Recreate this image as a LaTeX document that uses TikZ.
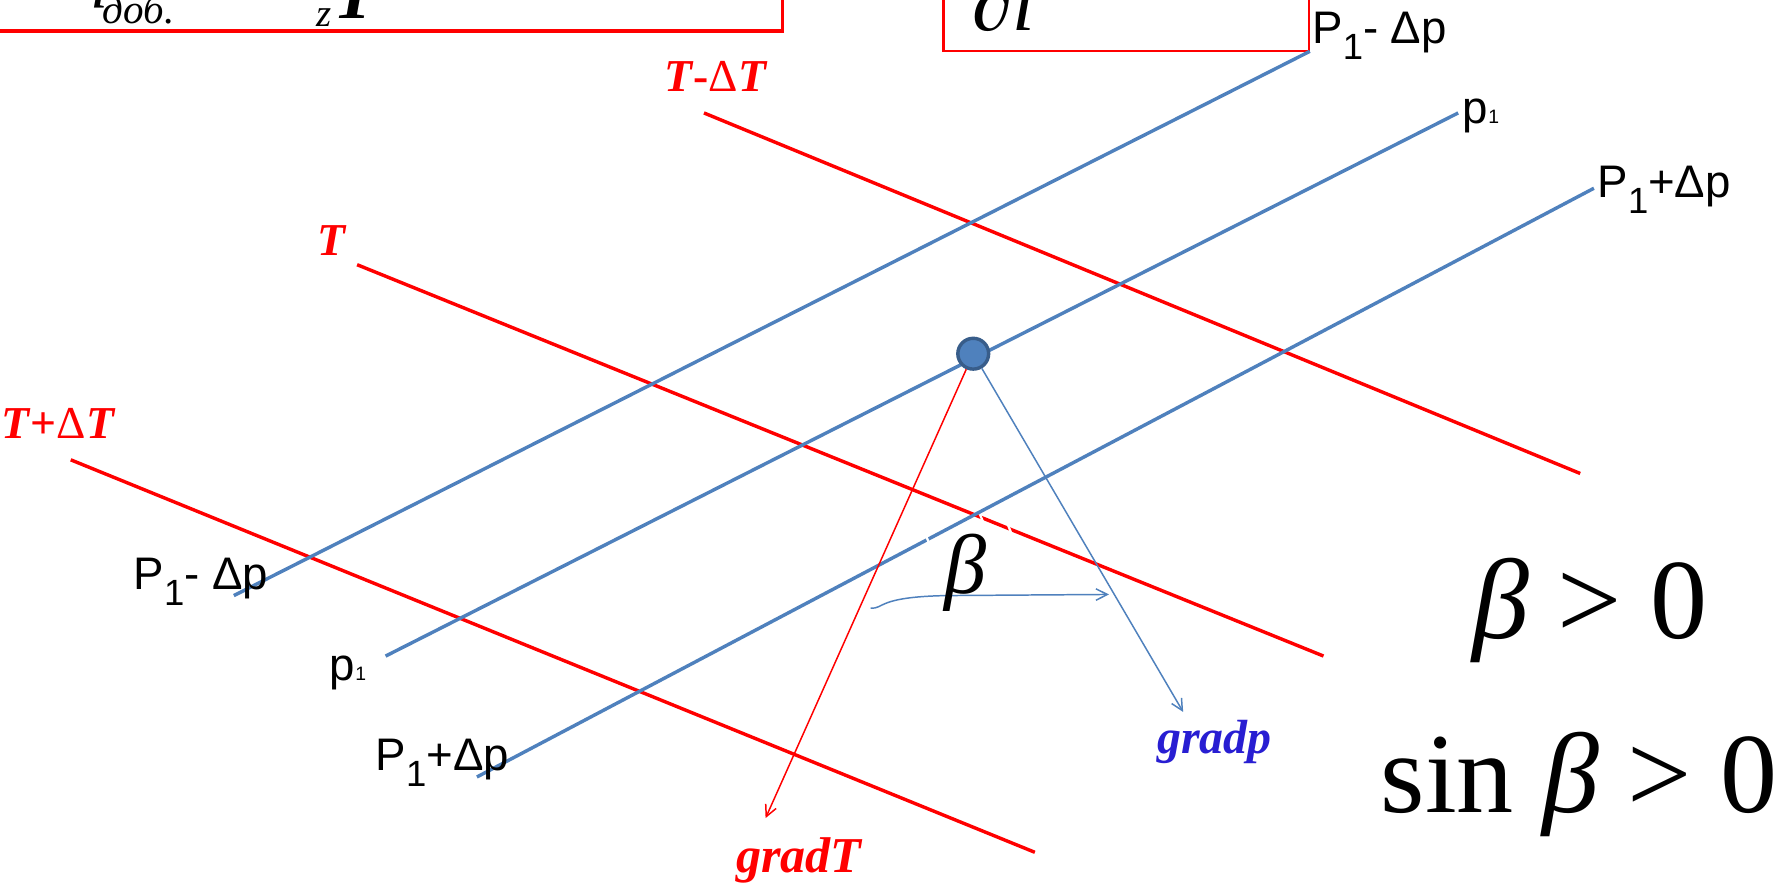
\documentclass[tikz,border=0pt]{standalone}
\usepackage{fontspec}
\setmainfont{Liberation Serif}
\newfontfamily\arialf{Liberation Sans}
\usetikzlibrary{arrows.meta}
\definecolor{lblue}{RGB}{79,129,189}
\definecolor{dblue}{RGB}{56,93,138}
\definecolor{gblue}{RGB}{40,30,210}
\tikzset{
  bline/.style={lblue, line width=3pt},
  rline/.style={red, line width=3pt},
  plabel/.style={anchor=base west, inner sep=0pt, font=\arialf\fontsize{40}{44}\selectfont},
  tlabel/.style={anchor=base west, inner sep=0pt, red, font=\fontsize{40}{44}\selectfont\bfseries\itshape},
  thinarrow/.style={line width=1.3pt, -{Straight Barb[length=10pt,width=10pt,line width=1.3pt]}},
  bigtext/.style={anchor=base west, inner sep=0pt, font=\fontsize{100}{104}\selectfont},
  frame/.style={draw=red}
}
\newcommand{\pone}{P\raisebox{-14pt}{\fontsize{32}{32}\selectfont 1}}
\newcommand{\psmall}{p{\fontsize{17}{17}\selectfont 1}}
\begin{document}
\begin{tikzpicture}[x=1pt,y=-1pt]
\useasboundingbox (0,0) rectangle (1568,774);
\clip (0,0) rectangle (1568,774);
\fill[white] (0,0) rectangle (1568,774);

% top boxes (partly cut)
\draw[frame, line width=3pt] (-5,-60) rectangle (686,27);
\node[anchor=base west, inner sep=0pt, font=\fontsize{60}{60}\selectfont\itshape] (qq) at (66,-6) {q};
\node[anchor=base west, inner sep=0pt, font=\fontsize{36}{36}\selectfont\itshape] (qsub) at (90,21) {доб.};
\node[anchor=base west, inner sep=0pt, font=\fontsize{34}{34}\selectfont\itshape] (zz) at (277,23) {z};
\node[anchor=base west, inner sep=0pt, font=\fontsize{62}{62}\selectfont\bfseries\itshape] (TT) at (292,16) {T};

\draw[frame, line width=2pt] (827,-60) rectangle (1147,45);
\node[anchor=base west, inner sep=0pt, font=\fontsize{72}{72}\selectfont\itshape] (dl) at (852,27) {∂l};

% coordinates of line ends
\coordinate (b1s) at (205,522); \coordinate (b1e) at (1148,45);
\coordinate (b2s) at (338,575); \coordinate (b2e) at (1278,99);
\coordinate (b3s) at (418,681); \coordinate (b3e) at (1397,165);
\coordinate (r1s) at (617,99);  \coordinate (r1e) at (1385,415);
\coordinate (r2s) at (313,232); \coordinate (r2e) at (1160,575);
\coordinate (r3s) at (62,403);  \coordinate (r3e) at (907,747);

% isotherms (red) and isobars (blue)
\draw[rline] (r1s) -- (r1e);
\draw[rline] (r2s) -- (r2e);
\draw[rline] (r3s) -- (r3e);
\draw[bline] (b1s) -- (b1e);
\draw[bline] (b2s) -- (b2e);
\draw[bline] (b3s) -- (b3e);

% small white gaps near beta
\draw[white, line width=2pt] (811,468) -- (815,478);
\draw[white, line width=2pt] (859,451) -- (863,461);
\draw[white, line width=2pt] (883,459) -- (887,469);

% point
\node[circle, fill=lblue, draw=dblue, line width=3pt, minimum size=27pt, inner sep=0pt] (O) at (853,310) {};
\coordinate (gT) at (671,717);
\coordinate (gp) at (1037,624);
\draw[red, thinarrow] (O) -- (gT);
\draw[lblue, thinarrow] (O) -- (gp);

% beta arc arrow
\coordinate (bs) at (763,533);
\coordinate (be) at (972,521);
\draw[lblue, thinarrow] (bs) .. controls (775,534) and (768,523) .. (830,522) -- (be);
\node[anchor=base west, inner sep=0pt, font=\fontsize{74}{74}\selectfont\itshape] (beta) at (828,520) {β};

% labels T
\node[tlabel] (lT1) at (582,80) {T\textup{-}{\mdseries\upshape Δ}T};
\node[tlabel] (lT2) at (278,224) {T};
\node[tlabel] (lT3) at (1,384) {T\textup{+}{\mdseries\upshape Δ}T};

% labels p
\node[plabel] (lp1) at (1150,38) {\pone- Δp};
\node[plabel] (lp2) at (1282,108) {\psmall};
\node[plabel] (lp3) at (1400,173) {\pone+Δp};
\node[plabel] (lp4) at (117,517) {\pone- Δp};
\node[plabel] (lp5) at (289,596) {\psmall};
\node[plabel] (lp6) at (329,675) {\pone+Δp};

% gradient labels
\node[anchor=base west, inner sep=0pt, red, font=\fontsize{44}{48}\selectfont\bfseries\itshape] (lgT) at (645,765) {gradT};
\node[anchor=base west, inner sep=0pt, gblue, font=\fontsize{42}{46}\selectfont\bfseries\itshape] (lgp) at (1014,660) {gradp};

% right formulas
\node[bigtext] (f1) at (1290,560) {\textit{β} > 0};
\node[bigtext] (f2) at (1210,712) {sin \textit{β} > 0};
\end{tikzpicture}
\end{document}
